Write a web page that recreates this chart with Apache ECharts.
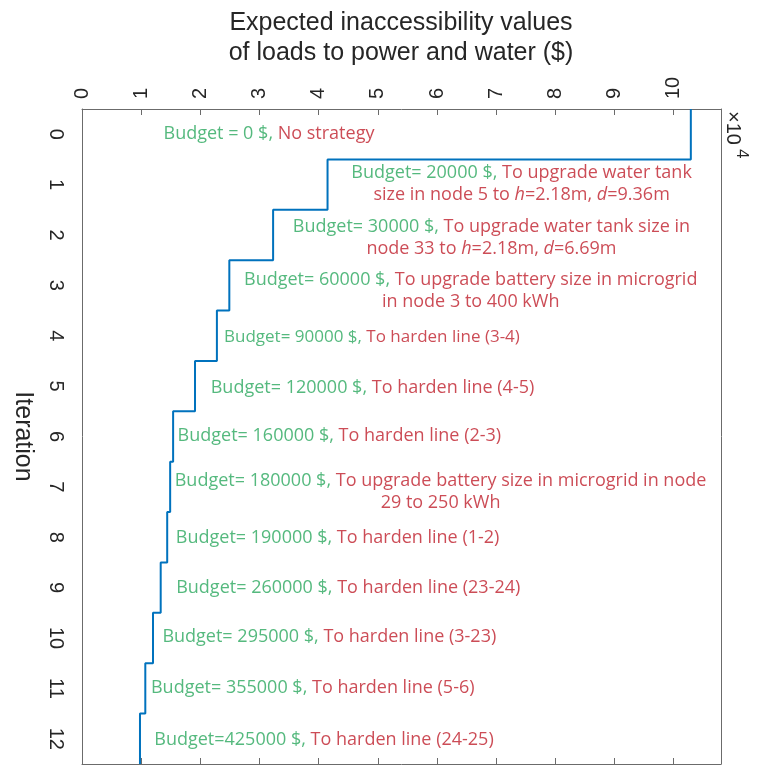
<!DOCTYPE html>
<html><head><meta charset="utf-8">
<script src="https://cdn.jsdelivr.net/npm/echarts@6/dist/echarts.min.js"></script>
<style>html,body{margin:0;padding:0;background:#fff}#c{width:764px;height:766px}</style>
</head><body><div id="c"></div>
<script>
// ---- data ----
const iterations = ['0','1','2','3','4','5','6','7','8','9','10','11','12'];
// expected inaccessibility values (x 10^4 $) per iteration
const inaccessibility = [10.29, 4.15, 3.23, 2.49, 2.28, 1.91, 1.54, 1.49, 1.44, 1.33, 1.20, 1.07, 0.98];
const budgets = ['Budget = 0 $, ', 'Budget= 20000 $, ', 'Budget= 30000 $, ', 'Budget= 60000 $, ',
  'Budget= 90000 $, ', 'Budget= 120000 $, ', 'Budget= 160000 $, ', 'Budget= 180000 $, ',
  'Budget= 190000 $, ', 'Budget= 260000 $, ', 'Budget= 295000 $, ', 'Budget= 355000 $, ', 'Budget=425000 $, '];
const strategies = ['No strategy',
  'To upgrade water tank\nsize in node 5 to *h*=2.18m, *d*=9.36m',
  'To upgrade water tank size in\nnode 33 to *h*=2.18m, *d*=6.69m',
  'To upgrade battery size in microgrid\nin node 3 to 400 kWh',
  'To harden line (3-4)', 'To harden line (4-5)', 'To harden line (2-3)',
  'To upgrade battery size in microgrid in node\n29 to 250 kWh',
  'To harden line (1-2)', 'To harden line (23-24)', 'To harden line (3-23)',
  'To harden line (5-6)', 'To harden line (24-25)'];
const titleLines = ['Expected inaccessibility values', 'of loads to power and water ($)'];

// ---- layout (annotation anchors in axis units, font sizes in px) ----
const noteCenterX = [3.16, 7.43, 6.92, 6.57, 4.9, 4.91, 4.35, 6.06, 4.32, 4.50, 4.18, 3.90, 4.09];
const noteY = [0, 0.99, 2.06, 3.11, 4.02, 5.03, 5.98, 7.1, 8.02, 9.0, 9.98, 10.99, 12.02];
const noteSize = [18, 18, 18, 18, 17, 18, 18, 18, 18, 18, 18, 18, 18];

// step polyline: each iteration value spans iteration +/- 0.5
const stepData = [];
inaccessibility.forEach((v, i) => { stepData.push([v, i - 0.5]); stepData.push([v, i + 0.5]); });

function toRich(budget, strat) {
  let s = '{g|' + budget + '}';
  strat.split('\n').forEach((line, li) => {
    if (li > 0) s += '\n';
    line.split('*').forEach((seg, k) => { if (seg) s += (k % 2 ? '{ri|' : '{r|') + seg + '}'; });
  });
  return s;
}
const GREEN = '#2aa85e', RED = '#bf1f2c', noteFont = 'Open Sans';
function richFor(sz) {
  return {
    g: { color: GREEN, fontSize: sz, fontFamily: noteFont, lineHeight: 22 },
    r: { color: RED, fontSize: sz, fontFamily: noteFont, lineHeight: 22 },
    ri: { color: RED, fontSize: sz, fontFamily: noteFont, fontStyle: 'italic', lineHeight: 22 }
  };
}
const noteTexts = budgets.map((b, i) => toRich(b, strategies[i]));
const noteData = budgets.map((b, i) => ({ value: [noteCenterX[i], noteY[i]], label: { rich: richFor(noteSize[i]) } }));

const AX = '#6b6b6b', TXT = '#262626';
const chart = echarts.init(document.getElementById('c'), null, { renderer: 'canvas' });
chart.setOption({
  animation: false,
  backgroundColor: '#fff',
  grid: { left: 82, top: 109, right: 43, bottom: 2 },
  xAxis: [
    { type: 'value', position: 'top', min: 0, max: 10.8, interval: 1,
      axisLine: { onZero: false, lineStyle: { color: AX, width: 1 } },
      axisTick: { inside: true, length: 6, lineStyle: { color: AX } },
      splitLine: { show: false },
      axisLabel: { rotate: -90, margin: 10, fontSize: 20, color: TXT, fontFamily: 'Liberation Sans', showMaxLabel: false } },
    { type: 'value', position: 'bottom', min: 0, max: 10.8, interval: 1,
      axisLine: { onZero: false, lineStyle: { color: AX, width: 1 } },
      axisTick: { inside: true, length: 6, lineStyle: { color: AX } },
      splitLine: { show: false }, axisLabel: { show: false } }
  ],
  yAxis: [
    { type: 'category', data: iterations, inverse: true, boundaryGap: true, position: 'left',
      axisLine: { onZero: false, lineStyle: { color: AX, width: 1 } },
      axisTick: { alignWithLabel: true, inside: true, length: 6, lineStyle: { color: AX } },
      axisLabel: { rotate: -90, margin: 16, fontSize: 20, color: TXT, fontFamily: 'Liberation Sans' },
      name: 'Iteration', nameLocation: 'middle', nameRotate: -90, nameGap: 47,
      nameTextStyle: { fontSize: 25, color: TXT, fontFamily: 'Liberation Sans' } },
    { type: 'category', data: iterations, inverse: true, boundaryGap: true, position: 'right',
      axisLine: { onZero: false, lineStyle: { color: AX, width: 1 } },
      axisTick: { alignWithLabel: true, inside: true, length: 6, lineStyle: { color: AX } },
      axisLabel: { show: false } },
    { type: 'value', min: -0.5, max: 12.5, inverse: true, show: false, axisLine: { onZero: false } }
  ],
  series: [
    { type: 'line', xAxisIndex: 0, yAxisIndex: 2, data: stepData, showSymbol: false, symbol: 'none',
      lineStyle: { color: '#0072BD', width: 2 }, clip: false, z: 3 },
    { type: 'scatter', xAxisIndex: 0, yAxisIndex: 2, symbolSize: 0, silent: true, z: 5,
      data: noteData,
      label: { show: true, position: 'inside', align: 'center', verticalAlign: 'middle',
        formatter: p => noteTexts[p.dataIndex], lineHeight: 22, rich: richFor(18) } }
  ],
  graphic: [
    { type: 'text', x: 401, y: 8, style: { text: titleLines.join('\n'), align: 'center', verticalAlign: 'top',
        font: '25px "Liberation Sans"', fill: TXT, lineHeight: 30 } },
    { type: 'text', x: 733, y: 111, rotation: -Math.PI / 2, style: { text: '\u00d710', align: 'left', verticalAlign: 'middle',
        font: '20px "Liberation Sans"', fill: TXT } },
    { type: 'text', x: 742, y: 149, rotation: -Math.PI / 2, style: { text: '4', align: 'left', verticalAlign: 'middle',
        font: '17px "Liberation Sans"', fill: TXT } }
  ]
});
</script>
</body></html>
